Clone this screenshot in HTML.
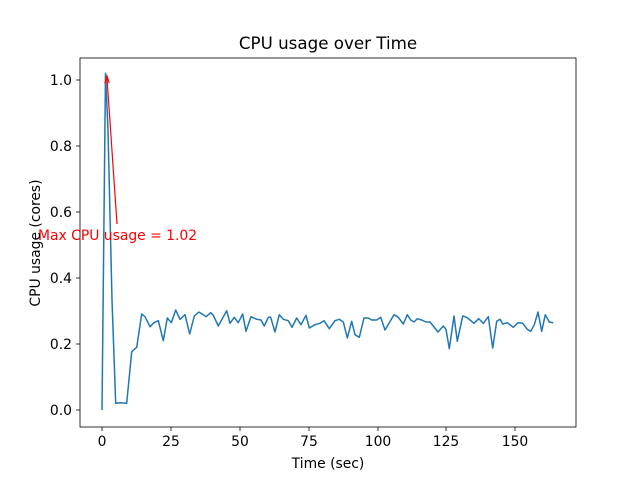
<!DOCTYPE html>
<html><head><meta charset="utf-8"><style>body{margin:0;background:#fff}</style></head>
<body>
<svg width="640" height="480" xmlns="http://www.w3.org/2000/svg" font-family="'DejaVu Sans', sans-serif" font-size="13.9px">
<rect width="640" height="480" fill="#fff"/>
<text x="328" y="49" text-anchor="middle" font-size="16.7px">CPU usage over Time</text>
<polyline fill="none" stroke="#1f77b4" stroke-width="1.5" stroke-linejoin="round" points="102,410 105.5,73.4 108,130 112,300 115.7,403.3 120,402.7 126.7,403.3 131.7,351.7 136.7,347.3 141.7,314 145,316.7 150,326.7 154,322.7 158.3,320.7 163.3,340.7 167.3,318 171.3,322.7 175.7,310 180,319.3 185,314.7 189.7,334 194.3,316 198.7,312 203.3,314.7 206,316.7 210.7,312.7 213.3,315.3 218.3,326 226.7,310.7 230,323.3 234.3,317.3 238.3,322.7 242.7,314 246,331.3 251,316.7 256.7,319.3 261,320 264.3,326 268.3,317.3 270.7,317.3 275,332 279.3,314.7 283.3,319.3 288.3,320.7 292,327.3 296.7,318 301,324.7 306,315.3 309.3,328 315,324.7 320,323.3 324,320.7 329.3,328.7 335,320.7 339.3,319.3 343.3,322 347.3,338 351.7,321.3 355,334.7 359.3,337.3 364,318 368.3,318 371.7,320 376.7,320 380.7,317.3 385,330 394,314.7 398.3,317.3 403.3,324 407.3,314.7 410.7,320 414,322 417.3,318.7 421.7,320 426,322 430,322 433.3,326 438,332 443.3,326 446,329.3 449.3,348.7 454,316 457.3,341.3 462.7,316 466.7,317.3 470,320 474,323.3 478.7,318.7 483.3,323.3 488.3,316.7 492.7,348 496.7,321.3 500,319.3 502.7,324 507.3,322.7 513.3,327.3 518,322.7 522.7,323.3 527.3,329.3 530.7,331.3 534.3,324.7 538,312 541.7,331.3 545.3,314.7 549.3,322 553.3,322.7"/>
<line x1="117" y1="224" x2="107" y2="78" stroke="red" stroke-width="1.2"/>
<polyline points="104.8,83.5 107,76 109.2,83" fill="none" stroke="red" stroke-width="1.2"/>
<text x="38" y="240" fill="red">Max CPU usage = 1.02</text>
<rect x="80" y="58" width="496" height="369" fill="none" stroke="#000" stroke-width="0.8"/>
<g stroke="#000" stroke-width="0.8">
<line x1="102" y1="427" x2="102" y2="431"/><line x1="171" y1="427" x2="171" y2="431"/><line x1="240" y1="427" x2="240" y2="431"/><line x1="309" y1="427" x2="309" y2="431"/><line x1="378" y1="427" x2="378" y2="431"/><line x1="446" y1="427" x2="446" y2="431"/><line x1="515" y1="427" x2="515" y2="431"/>
<line x1="76" y1="410" x2="80" y2="410"/><line x1="76" y1="344" x2="80" y2="344"/><line x1="76" y1="278" x2="80" y2="278"/><line x1="76" y1="212" x2="80" y2="212"/><line x1="76" y1="146" x2="80" y2="146"/><line x1="76" y1="80" x2="80" y2="80"/>
</g>
<g text-anchor="middle">
<text x="102" y="446">0</text><text x="171" y="446">25</text><text x="240" y="446">50</text><text x="309" y="446">75</text><text x="378" y="446">100</text><text x="446" y="446">125</text><text x="515" y="446">150</text>
</g>
<g text-anchor="end">
<text x="72" y="415">0.0</text><text x="72" y="349">0.2</text><text x="72" y="283">0.4</text><text x="72" y="217">0.6</text><text x="72" y="151">0.8</text><text x="72" y="85">1.0</text>
</g>
<text x="328" y="468" text-anchor="middle">Time (sec)</text>
<text transform="translate(40,243) rotate(-90)" text-anchor="middle">CPU usage (cores)</text>
</svg>
</body></html>
